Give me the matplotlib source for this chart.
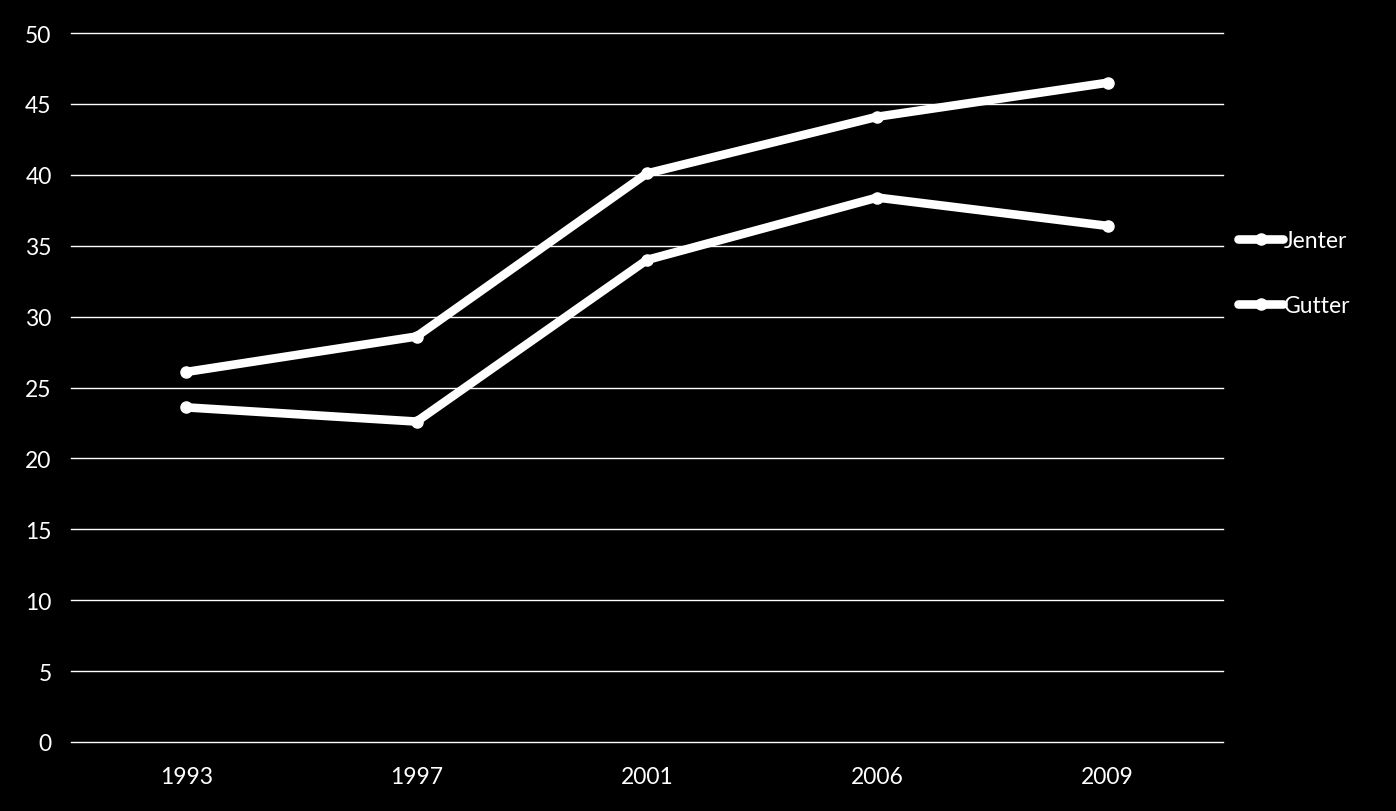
import matplotlib
matplotlib.use("Agg")
import matplotlib.pyplot as plt

years = ["1993", "1997", "2001", "2006", "2009"]
jenter = [26.1, 28.6, 40.1, 44.1, 46.5]
gutter = [23.6, 22.6, 34.0, 38.4, 36.4]

plt.rcParams['font.family'] = ['Lato', 'DejaVu Sans']

fig = plt.figure(figsize=(13.96, 8.12), dpi=100, facecolor='black')
ax = fig.add_axes([0.0509, 0.085, 0.825, 0.873], facecolor='black')

x = range(len(years))
ax.plot(x, jenter, color='white', lw=6.2, marker='o', ms=8, solid_capstyle='round', label='Jenter')
ax.plot(x, gutter, color='white', lw=6.2, marker='o', ms=8, solid_capstyle='round', label='Gutter')

ax.set_xlim(-0.5, 4.5)
ax.set_ylim(0, 50)
ax.set_yticks(range(0, 51, 5))
ax.set_xticks(list(x))
ax.set_xticklabels(years)
ax.yaxis.grid(True, color='white', lw=1, clip_on=False)
ax.set_axisbelow(True)
for s in ax.spines.values():
    s.set_visible(False)
ax.tick_params(colors='white', labelsize=16.5, length=0)
ax.tick_params(axis='y', pad=14)
ax.tick_params(axis='x', pad=17)

leg = ax.legend(loc='upper left', bbox_to_anchor=(0.995, 0.751), frameon=False,
                fontsize=16.5, labelcolor='white', handlelength=2.0, handletextpad=0.0,
                labelspacing=1.93)

fig.savefig("out.png", dpi=100, facecolor='black')
